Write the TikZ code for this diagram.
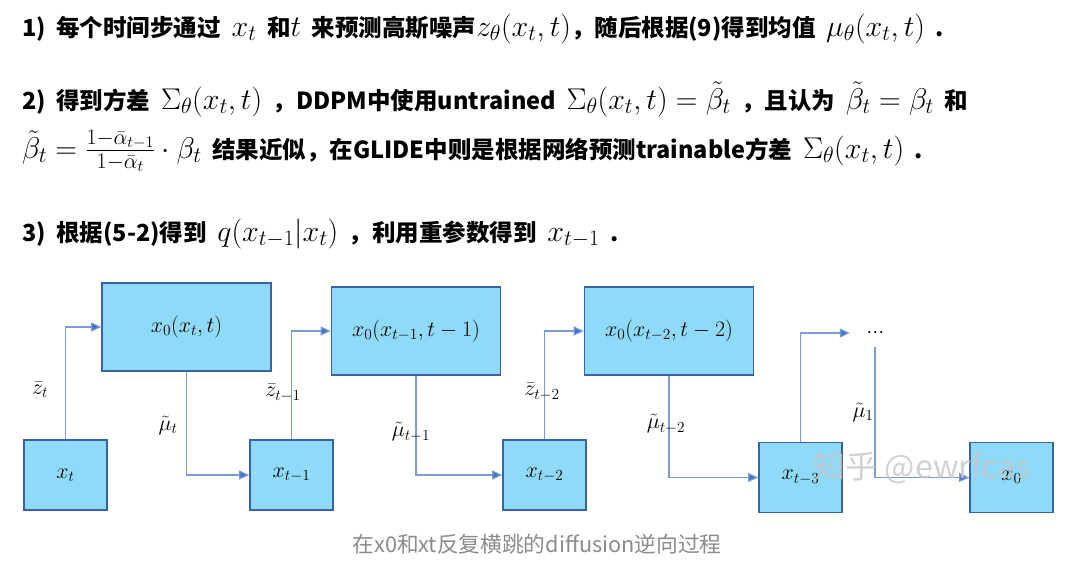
\RequirePackage{fix-cm}
\documentclass[tikz,border=0pt]{standalone}
\usepackage[no-math]{fontspec}
\setmainfont{Noto Sans CJK SC}
\usepackage{amsmath, amssymb}
\usetikzlibrary{arrows.meta, positioning}
\DeclareMathSizes{23.5}{30}{22}{16}
\newcommand{\widespaces}{\spaceskip 0.45em\relax}
\definecolor{boxfill}{HTML}{8FDAF8}
\definecolor{boxline}{HTML}{3A62A8}
\definecolor{flowline}{HTML}{7A9BD8}
\definecolor{flowhead}{HTML}{4472C4}
\definecolor{captiongray}{HTML}{8C8C8C}
\tikzset{
  stepline/.style={anchor=base west, inner sep=0pt, font={\fontsize{23.5}{28}\selectfont\bfseries\widespaces}},
  smallbox/.style={draw=boxline, fill=boxfill, line width=1.6pt, minimum width=83pt, minimum height=70pt, font=\fontsize{22}{26}\selectfont},
  bigbox/.style={smallbox, minimum width=169pt, minimum height=88pt},
  flow/.style={draw=flowline, line width=1.2pt, -{Triangle[length=10pt,width=9pt,fill=flowhead]}},
  flowlabel/.style={font=\fontsize{22}{26}\selectfont},
}

\begin{document}
\begin{tikzpicture}[x=1pt, y=-1pt]
  \useasboundingbox (0,0) rectangle (1074,574);

  % the three steps
  \node[stepline] (line1) at (22,36) {1) 每个时间步通过 $x_t$ 和$t$ 来预测高斯噪声$z_\theta(x_t,t)$，随后根据(9)得到均值 $\mu_\theta(x_t,t)$ .};
  \node[stepline] (line2) at (22,109) {2) 得到方差 $\Sigma_\theta(x_t,t)$ ，DDPM中使用untrained $\Sigma_\theta(x_t,t)=\tilde\beta_t$ ，且认为 $\tilde\beta_t=\beta_t$ 和};
  \node[stepline] (line3) at (22,158) {$\tilde\beta_t=\frac{1-\bar\alpha_{t-1}}{1-\bar\alpha_t}\cdot\beta_t$ 结果近似，在GLIDE中则是根据网络预测trainable方差 $\Sigma_\theta(x_t,t)$ .};
  \node[stepline] (line4) at (22,241) {3) 根据(5-2)得到 $q(x_{t-1}|x_t)$ ，利用重参数得到 $x_{t-1}$ .};

  % boxes
  \node[smallbox] (xt)  at (65.5,475) {$x_t$};
  \node[bigbox]   (b0)  at (186.5,327) {$x_0(x_t,t)$};
  \node[smallbox] (xt1) at (291.5,475) {$x_{t-1}$};
  \node[bigbox]   (b1)  at (416,331) {$x_0(x_{t-1},t-1)$};
  \node[smallbox] (xt2) at (544.5,475) {$x_{t-2}$};
  \node[bigbox]   (b2)  at (669,331) {$x_0(x_{t-2},t-2)$};
  \node[smallbox] (xt3) at (800.5,477.5) {$x_{t-3}$};
  \node[minimum width=50pt, minimum height=28pt, font=\fontsize{16}{19}\selectfont] (dots) at (875,333) {\dots};
  \node[smallbox] (x0)  at (1011.5,477.5) {$x_0$};

  % jumps between x_t and x_0
  \draw[flow] (xt.north) |- (b0.west);
  \draw[flow] (b0.south) |- (xt1.west);
  \draw[flow] (xt1.north) |- (b1.west);
  \draw[flow] (b1.south) |- (xt2.west);
  \draw[flow] (xt2.north) |- (b2.west);
  \draw[flow] (b2.south) |- (xt3.west);
  \draw[flow] (xt3.north) |- (dots.west);
  \draw[flow] (dots.south) |- (x0.west);

  \node[flowlabel] (zt)  at (40,390) {$\bar z_t$};
  \node[flowlabel] (mt)  at (168,425) {$\tilde\mu_t$};
  \node[flowlabel] (zt1) at (283,393) {$\bar z_{t-1}$};
  \node[flowlabel] (mt1) at (411,432) {$\tilde\mu_{t-1}$};
  \node[flowlabel] (zt2) at (542,392) {$\bar z_{t-2}$};
  \node[flowlabel] (mt2) at (666,424) {$\tilde\mu_{t-2}$};
  \node[flowlabel] (m1)  at (863,412) {$\tilde\mu_1$};

  \node[text=gray!45, opacity=0.8, font=\fontsize{32}{36}\selectfont] (watermark) at (922,468) {知乎 @ewrfcas};
  \node[text=captiongray, font=\fontsize{21.7}{26}\selectfont] (caption) at (537,544) {在x0和xt反复横跳的diffusion逆向过程};
\end{tikzpicture}
\end{document}
